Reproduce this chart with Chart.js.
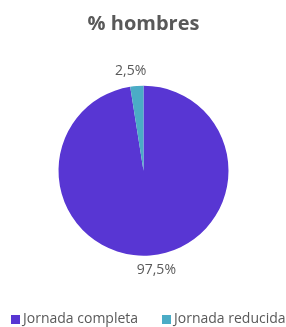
<!DOCTYPE html>
<html><head><meta charset="utf-8">
<script src="https://cdn.jsdelivr.net/npm/chart.js@4"></script>
<style>html,body{margin:0;padding:0;background:#fff}#wrap{width:286px;height:327px}</style>
</head><body><div id="wrap"><canvas id="c"></canvas></div>
<script>
const categories = ["Jornada completa", "Jornada reducida"];
const values = [97.5, 2.5];
const valueLabels = ["97,5%", "2,5%"];
const colors = ["#5836D3", "#4BACC6"];
const titleText = "% hombres";

const FONT = '"Open Sans", sans-serif';
const TEXT = '#595959';

const outsideLabels = {
  id: 'outsideLabels',
  afterDatasetsDraw(chart) {
    const ctx = chart.ctx;
    const meta = chart.getDatasetMeta(0);
    ctx.save();
    ctx.font = '14px ' + FONT;
    ctx.fillStyle = TEXT;
    ctx.textAlign = 'center';
    ctx.textBaseline = 'middle';
    meta.data.forEach((arc, i) => {
      const mid = (arc.startAngle + arc.endAngle) / 2;
      const r = arc.outerRadius + 15;
      const dx = Math.cos(mid), dy = Math.sin(mid);
      const x = arc.x + dx * r + Math.sign(dx) * 5;
      const y = arc.y + dy * r;
      ctx.fillText(valueLabels[i], x, y);
    });
    ctx.restore();
  }
};

const customLegend = {
  id: 'customLegend',
  afterDraw(chart) {
    const ctx = chart.ctx;
    const starts = [11, 162];
    const y = 319.5;
    ctx.save();
    ctx.font = '14px ' + FONT;
    ctx.textBaseline = 'middle';
    ctx.textAlign = 'left';
    chart.data.labels.forEach((lab, i) => {
      ctx.fillStyle = chart.data.datasets[0].backgroundColor[i];
      ctx.fillRect(starts[i], y - 4.5, 9, 9);
      ctx.fillStyle = TEXT;
      ctx.fillText(lab, starts[i] + 12, y);
    });
    ctx.restore();
  }
};

new Chart(document.getElementById('c'), {
  type: 'pie',
  data: { labels: categories, datasets: [{ data: values, backgroundColor: colors, borderWidth: 0 }] },
  options: {
    responsive: true, maintainAspectRatio: false, animation: false,
    radius: 85,
    layout: { padding: { top: 0, bottom: 31.6, left: 1, right: 0 } },
    plugins: {
      title: { display: true, text: titleText, color: TEXT, font: { size: 20, weight: 'bold', family: FONT }, padding: { top: 12, bottom: 10 } },
      legend: { display: false },
      tooltip: { enabled: false }
    }
  },
  plugins: [outsideLabels, customLegend]
});
</script></body></html>
